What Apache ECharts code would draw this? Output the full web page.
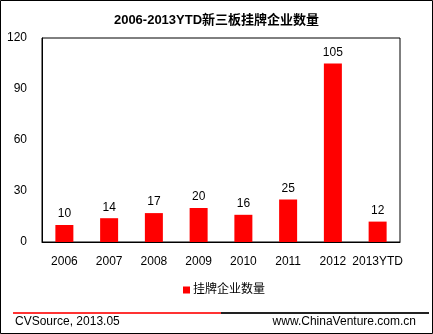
<!DOCTYPE html>
<html>
<head>
<meta charset="utf-8">
<script src="https://cdn.jsdelivr.net/npm/echarts@6/dist/echarts.min.js"></script>
<style>
  html, body { margin: 0; padding: 0; background: #fff; }
  #chart { width: 433px; height: 334px; }
</style>
</head>
<body>
<div id="chart"></div>
<script>
const titleText = '2006-2013YTD新三板挂牌企业数量';
const seriesName = '挂牌企业数量';
const categories = ['2006', '2007', '2008', '2009', '2010', '2011', '2012', '2013YTD'];
const listedCounts = [10, 14, 17, 20, 16, 25, 105, 12];
const sourceText = 'CVSource, 2013.05';
const siteText = 'www.ChinaVenture.com.cn';

const font = '"Liberation Sans", Arial, sans-serif';
const chart = echarts.init(document.getElementById('chart'), null, { renderer: 'canvas' });

chart.setOption({
  backgroundColor: '#fff',
  animation: false,
  title: {
    text: titleText,
    left: 'center',
    top: 9,
    textStyle: { fontFamily: '"Liberation Sans", "Noto Sans CJK SC", sans-serif', fontSize: 13, fontWeight: 'bold', color: '#000' }
  },
  grid: {
    left: 42, right: 33, top: 38, bottom: 92,
    show: true, borderColor: '#000', borderWidth: 1, backgroundColor: '#fff'
  },
  legend: {
    data: [seriesName],
    bottom: 33,
    left: 178,
    itemWidth: 7, itemHeight: 7, itemGap: 4,
    icon: 'rect',
    textStyle: { fontFamily: '"Liberation Sans", "Noto Sans CJK SC", sans-serif', fontSize: 12, color: '#000', padding: [0, 0, 0, -2] }
  },
  xAxis: {
    type: 'category',
    data: categories,
    axisLine: { show: true, lineStyle: { color: '#000', width: 1 } },
    axisTick: { show: false },
    axisLabel: { fontFamily: font, fontSize: 12, color: '#000', margin: 14, interval: 0 }
  },
  yAxis: {
    type: 'value',
    min: 0, max: 120, interval: 30,
    axisLine: { show: true, lineStyle: { color: '#000' } },
    axisTick: { show: false },
    splitLine: { show: false },
    axisLabel: { fontFamily: font, fontSize: 12, color: '#000', margin: 15 }
  },
  series: [{
    name: seriesName,
    type: 'bar',
    data: listedCounts,
    barWidth: 18,
    itemStyle: { color: '#ff0000' },
    label: {
      show: true, position: 'top', distance: 5,
      fontFamily: font, fontSize: 12, color: '#000'
    }
  }],
  graphic: [
    { type: 'rect', shape: { x: 0.5, y: 0.5, width: 432, height: 333 }, style: { fill: 'none', stroke: '#000', lineWidth: 1 } },
    { type: 'line', shape: { x1: 13, y1: 313, x2: 221, y2: 313 }, style: { stroke: '#ff3333', lineWidth: 2 } },
    { type: 'line', shape: { x1: 221, y1: 313, x2: 429, y2: 313 }, style: { stroke: '#222', lineWidth: 2 } },
    { type: 'text', left: 15, top: 316, style: { text: sourceText, font: '12px ' + font, fill: '#000' } },
    { type: 'text', right: 17, top: 316, style: { text: siteText, font: '12px ' + font, fill: '#000' } }
  ]
});
</script>
</body>
</html>
